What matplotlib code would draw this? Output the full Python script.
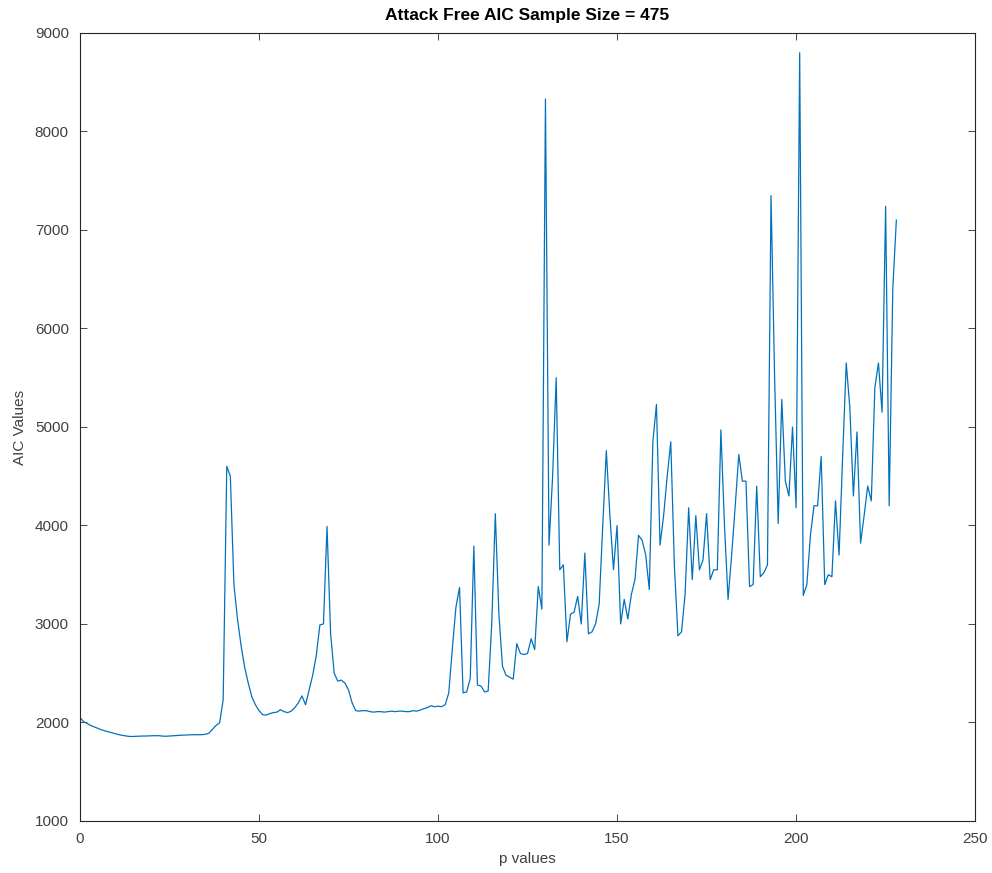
import matplotlib
matplotlib.use('Agg')
import matplotlib.pyplot as plt
import numpy as np

# AIC values for p = 0..228
aic = [
    2050, 2010, 1990, 1970, 1955, 1940, 1925, 1915, 1905, 1895,
    1885, 1875, 1868, 1862, 1858, 1858, 1860, 1862, 1862, 1863,
    1865, 1865, 1866, 1862, 1860, 1862, 1865, 1868, 1870, 1872,
    1874, 1875, 1876, 1875, 1876, 1880, 1890, 1930, 1970, 1995,
    2230, 4600, 4500, 3400, 3050, 2780, 2560, 2400, 2260, 2180,
    2120, 2080, 2075, 2090, 2100, 2105, 2130, 2110, 2100, 2115,
    2150, 2200, 2270, 2180, 2330, 2480, 2680, 2990, 3000, 3990,
    2900, 2500, 2420, 2430, 2400, 2330, 2200, 2120, 2115, 2120,
    2120, 2110, 2105, 2110, 2110, 2105, 2110, 2115, 2110, 2115,
    2115, 2110, 2110, 2120, 2115, 2125, 2140, 2150, 2170, 2160,
    2165, 2160, 2180, 2300, 2750, 3170, 3370, 2300, 2310, 2450,
    3790, 2380, 2370, 2310, 2320, 3000, 4120, 3100, 2570, 2480,
    2460, 2440, 2800, 2700, 2690, 2700, 2850, 2740, 3380, 3150,
    8330, 3800, 4500, 5500, 3550, 3600, 2820, 3100, 3120, 3280,
    3000, 3720, 2900, 2920, 3000, 3200, 4000, 4760, 4100, 3550,
    4000, 3000, 3250, 3050, 3300, 3450, 3900, 3850, 3700, 3350,
    4850, 5230, 3800, 4100, 4500, 4850, 3600, 2880, 2920, 3300,
    4180, 3450, 4100, 3550, 3650, 4120, 3450, 3550, 3550, 4970,
    4000, 3250, 3700, 4200, 4720, 4450, 4450, 3380, 3400, 4400,
    3480, 3520, 3600, 7350, 5500, 4020, 5280, 4450, 4300, 5000,
    4180, 8800, 3290, 3400, 3900, 4200, 4200, 4700, 3400, 3500,
    3480, 4250, 3700, 4700, 5650, 5200, 4300, 4950, 3820, 4100,
    4400, 4250, 5400, 5650, 5150, 7240, 4200, 6400, 7100,
]
p = np.arange(len(aic))

plt.rcParams['font.family'] = ['Liberation Sans', 'DejaVu Sans']

fig = plt.figure(figsize=(9.92, 8.73), dpi=100)
ax = fig.add_axes([0.0806, 0.0596, 0.9024, 0.9026])
ax.plot(p, aic, color='#0072BD', linewidth=0.9)

ax.set_xlim(0, 250)
ax.set_ylim(1000, 9000)
ax.set_xticks(np.arange(0, 251, 50))
ax.set_yticks(np.arange(1000, 9001, 1000))
ax.tick_params(direction='in', top=True, right=True, labelsize=11,
               colors='#262626', labelcolor='#404040', length=5, width=0.6,
               pad=8)
for s in ax.spines.values():
    s.set_color('#262626')
    s.set_linewidth(0.8)

ax.set_title('Attack Free AIC Sample Size = 475', fontsize=12.5, fontweight='bold',
             color='black', pad=9)
ax.set_xlabel('p values', fontsize=11, color='#404040', labelpad=4)
ax.set_ylabel('AIC Values', fontsize=11, color='#404040', labelpad=6)

fig.savefig('out.png', dpi=100)
